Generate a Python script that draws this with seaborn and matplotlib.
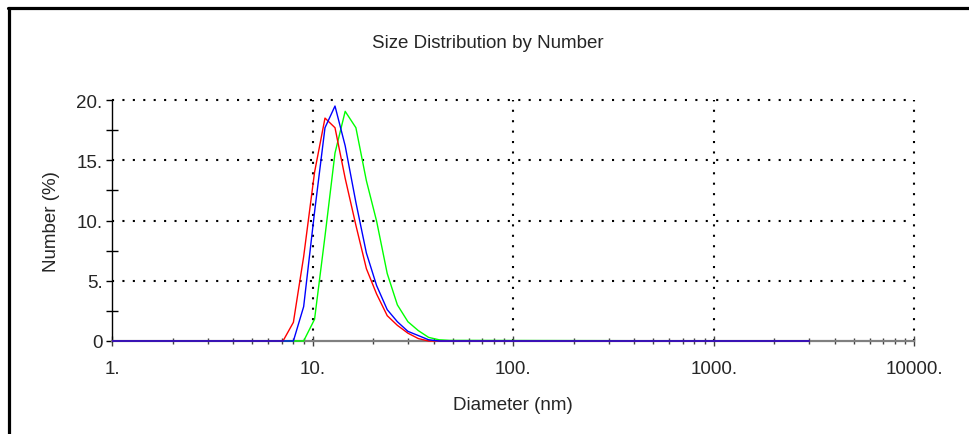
import pandas as pd
import matplotlib
matplotlib.use("Agg")
import matplotlib.pyplot as plt
from matplotlib.lines import Line2D
from matplotlib.ticker import FixedLocator, FixedFormatter, LogLocator, NullFormatter, MultipleLocator
import seaborn as sns

# size bins (nm), plus the flat ends of the traces
diameter = [1.0, 7.1, 8.0, 9.0, 10.2, 11.5, 12.9, 14.5, 16.4, 18.5, 20.8,
            23.5, 26.4, 29.8, 33.6, 37.8, 42.6, 48.0, 3000.0]

# number (%) per bin for the three records
green_values = [0, 0, 0, 0, 1.8, 8.7, 15.6, 19.06, 17.7, 13.3, 9.95,
                5.6, 3.0, 1.6, 0.86, 0.3, 0.1, 0.05, 0]
red_values = [0, 0, 1.55, 7.0, 14.0, 18.5, 17.7, 13.5, 9.6, 6.0, 3.9,
              2.1, 1.3, 0.65, 0.2, 0, 0, 0, 0]
blue_values = [0, 0, 0, 2.85, 10.7, 17.7, 19.5, 16.2, 11.5, 7.3, 4.6,
               2.6, 1.6, 0.8, 0.45, 0.1, 0, 0, 0]

records = ["green", "red", "blue"]
colors = {"green": "#00ff00", "red": "#ff0000", "blue": "#0000ff"}

x_ticks = [1, 10, 100, 1000, 10000]
x_tick_labels = ["1.", "10.", "100.", "1000.", "10000."]
y_ticks = [0, 5, 10, 15, 20]
y_tick_labels = ["0", "5.", "10.", "15.", "20."]

# long format table for seaborn
df = pd.concat([
    pd.DataFrame({"diameter": diameter, "number": vals, "record": name})
    for name, vals in zip(records, [green_values, red_values, blue_values])
], ignore_index=True)

sns.set_style("white")
plt.rcParams["font.family"] = ["Liberation Sans", "DejaVu Sans"]

fig = plt.figure(figsize=(9.7, 4.35), dpi=100)
ax = fig.add_axes([0.1158, 0.2138, 0.8268, 0.554])

sns.lineplot(data=df, x="diameter", y="number", hue="record", hue_order=records,
             palette=colors, legend=False, linewidth=1.0, ax=ax)
for ln in ax.lines:
    ln.set_clip_on(False)
    ln.set_zorder(3)

ax.set_xscale("log")
ax.set_xlim(1, 10000)
ax.set_ylim(0, 20)

# dotted grid, drawn at the decades and every 5 %
dots = (0, (1.0, 4.0))
for gx in x_ticks[1:]:
    ax.axvline(gx, color="black", linestyle=dots, linewidth=1.5, clip_on=False, zorder=0.5)
for gy in y_ticks[1:]:
    ax.axhline(gy, color="black", linestyle=dots, linewidth=1.5, clip_on=False, zorder=0.5)

ax.xaxis.set_major_locator(FixedLocator(x_ticks))
ax.xaxis.set_major_formatter(FixedFormatter(x_tick_labels))
ax.xaxis.set_minor_locator(LogLocator(base=10, subs=range(2, 10)))
ax.xaxis.set_minor_formatter(NullFormatter())
ax.yaxis.set_major_locator(FixedLocator(y_ticks))
ax.yaxis.set_major_formatter(FixedFormatter(y_tick_labels))
ax.yaxis.set_minor_locator(MultipleLocator(2.5))

ax.tick_params(axis="x", which="major", direction="inout", length=7, width=1,
               color="#404040", labelsize=13.5, pad=10)
ax.tick_params(axis="x", which="minor", direction="inout", length=4.5, width=1,
               color="#404040")
ax.tick_params(axis="y", which="major", direction="out", length=4.5, width=1,
               color="black", labelsize=13.5, pad=2.5)
ax.tick_params(axis="y", which="minor", direction="inout", length=8.6, width=1,
               color="black")
ax.tick_params(bottom=True, left=True, which="both")

for side in ["top", "right"]:
    ax.spines[side].set_visible(False)
ax.spines["left"].set_color("black")
ax.spines["left"].set_linewidth(1.0)
ax.spines["bottom"].set_color("#808080")
ax.spines["bottom"].set_linewidth(1.6)

ax.set_xlabel("Diameter (nm)", fontsize=13.5, labelpad=14)
ax.set_ylabel("Number (%)", fontsize=13.5, labelpad=12)
fig.text(0.503, 0.901, "Size Distribution by Number", ha="center", va="center", fontsize=13.5)

# frame along the top and left edge
fig.add_artist(Line2D([0.0093, 0.0093], [0.0, 0.9795], transform=fig.transFigure,
                      color="black", linewidth=2.3))
fig.add_artist(Line2D([0.0081, 1.0], [0.9795, 0.9795], transform=fig.transFigure,
                      color="black", linewidth=2.3))

fig.savefig("out.png", dpi=100)
